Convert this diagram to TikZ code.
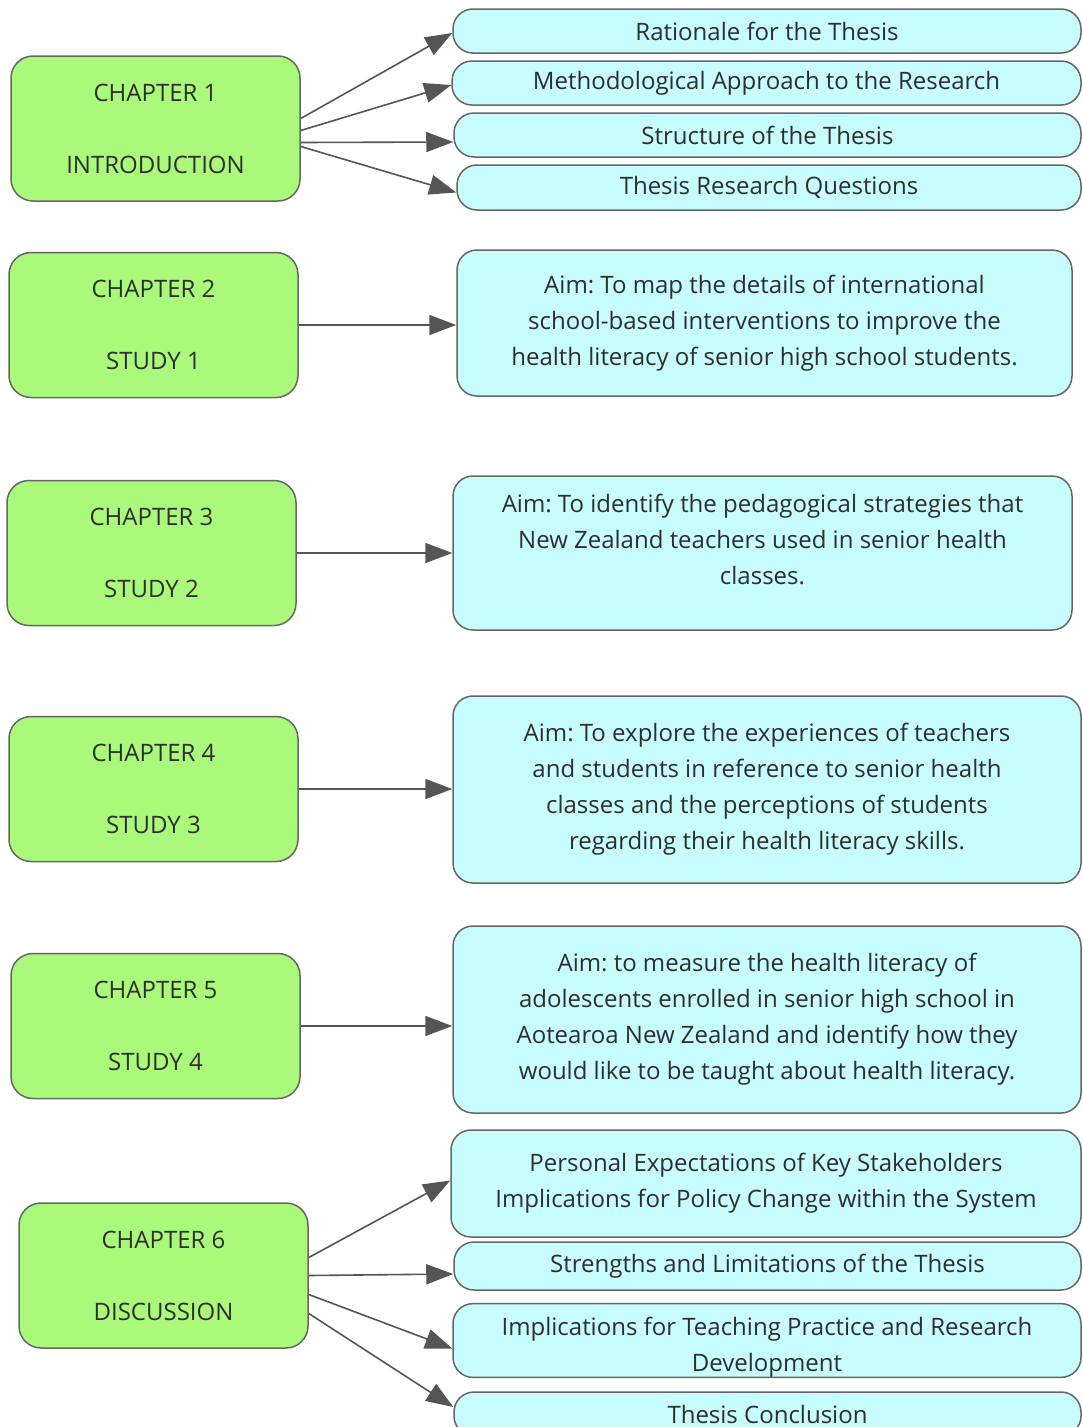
\documentclass[tikz,border=0pt]{standalone}
\usepackage{fontspec}
\setmainfont{Open Sans}
\usetikzlibrary{arrows.meta,calc}

\definecolor{chapfill}{HTML}{AAF97B}
\definecolor{itemfill}{HTML}{C8FDFD}
\definecolor{edgegray}{HTML}{666666}
\definecolor{arrowgray}{HTML}{555555}
\definecolor{textgray}{HTML}{2E2E2E}

\tikzset{
  chapter/.style={draw=edgegray, line width=1.5pt, fill=chapfill, rounded corners=22pt,
    minimum width=289pt, minimum height=145pt, inner sep=0pt, align=center,
    text=textgray, font=\fontsize{24}{36}\selectfont\frenchspacing},
  item/.style={draw=edgegray, line width=1.5pt, fill=itemfill, rounded corners=20pt,
    inner sep=0pt, align=center, text=textgray, font=\fontsize{24}{36}\selectfont\frenchspacing},
  link/.style={draw=arrowgray, line width=1.6pt, -{Triangle[length=27pt,width=20pt]}}
}

\begin{document}
\begin{tikzpicture}[x=1pt,y=-1pt]
\clip (0,0) rectangle (1082,1427);
\fill[white] (0,0) rectangle (1082,1427);

% chapter boxes
\node[chapter] (ch1) at (155.5,128.5) {CHAPTER 1\\[36pt]INTRODUCTION};
\node[chapter] (ch2) at (153.5,325) {CHAPTER 2\\[36pt]STUDY 1};
\node[chapter] (ch3) at (151.5,553) {CHAPTER 3\\[36pt]STUDY 2};
\node[chapter] (ch4) at (153.5,789) {CHAPTER 4\\[36pt]STUDY 3};
\node[chapter] (ch5) at (155.5,1026) {CHAPTER 5\\[36pt]STUDY 4};
\node[chapter] (ch6) at (163.5,1275.5) {CHAPTER 6\\[36pt]DISCUSSION};

% chapter 1 topics
\node[item, minimum width=628pt, minimum height=44pt] (r1) at (767,31) {Rationale for the Thesis};
\node[item, minimum width=629pt, minimum height=44pt] (r2) at (766.5,83) {Methodological Approach to the Research};
\node[item, minimum width=627pt, minimum height=44pt] (r3) at (767.5,135) {Structure of the Thesis};
\node[item, minimum width=624pt, minimum height=45pt] (r4) at (769,187.5) {Thesis Research Questions};

% study aims
\node[item, minimum width=615pt, minimum height=146pt] (a1) at (764.5,323)
  {Aim: To map the details of international\\school-based interventions to improve the\\health literacy of senior high school students.};
\node[item, minimum width=619pt, minimum height=154pt] (a2) at (762.5,553)
  {Aim: To identify the pedagogical strategies that\\New Zealand teachers used in senior health\\classes.\\[-8pt]\mbox{}};
\node[item, minimum width=628pt, minimum height=187pt] (a3) at (767,789.5)
  {Aim: To explore the experiences of teachers\\and students in reference to senior health\\classes and the perceptions of students\\regarding their health literacy skills.};
\node[item, minimum width=628pt, minimum height=187pt] (a4) at (767,1019.5)
  {Aim: to measure the health literacy of\\adolescents enrolled in senior high school in\\Aotearoa New Zealand and identify how they\\would like to be taught about health literacy.};

% discussion topics
\node[item, minimum width=630pt, minimum height=107pt] (d1) at (766,1183.5)
  {Personal Expectations of Key Stakeholders\\Implications for Policy Change within the System};
\node[item, minimum width=627pt, minimum height=48pt] (d2) at (767.5,1266) {Strengths and Limitations of the Thesis};
\node[item, minimum width=628pt, minimum height=73pt] (d3) at (767,1340.5)
  {\rule{0pt}{32pt}Implications for Teaching Practice and Research\\Development};
\node[item, minimum width=627pt, minimum height=44pt] (d4) at (767.5,1414) {Thesis Conclusion};

% chapter 1 fan
\draw[link] ($(ch1.east)+(0,-10)$) -- ($(r1.west)+(0,2)$);
\draw[link] ($(ch1.east)+(0,2)$) -- ($(r2.west)+(0,2)$);
\draw[link] ($(ch1.east)+(0,14)$) -- ($(r3.west)+(0,7)$);
\draw[link] ($(ch1.east)+(0,18)$) -- ($(r4.west)+(0,5)$);

% studies
\draw[link] (ch2.east) -- (ch2.east -| a1.west);
\draw[link] (ch3.east) -- (ch3.east -| a2.west);
\draw[link] (ch4.east) -- (ch4.east -| a3.west);
\draw[link] (ch5.east) -- (ch5.east -| a4.west);

% chapter 6 fan
\draw[link] ($(ch6.east)+(0,-18)$) -- ($(d1.west)+(0,-3)$);
\draw[link] ($(ch6.east)+(0,0)$) -- ($(d2.west)+(0,8)$);
\draw[link] ($(ch6.east)+(0,19)$) -- ($(d3.west)+(0,8)$);
\draw[link] ($(ch6.east)+(0,38)$) -- ($(d4.west)+(0,-7)$);
\end{tikzpicture}
\end{document}
